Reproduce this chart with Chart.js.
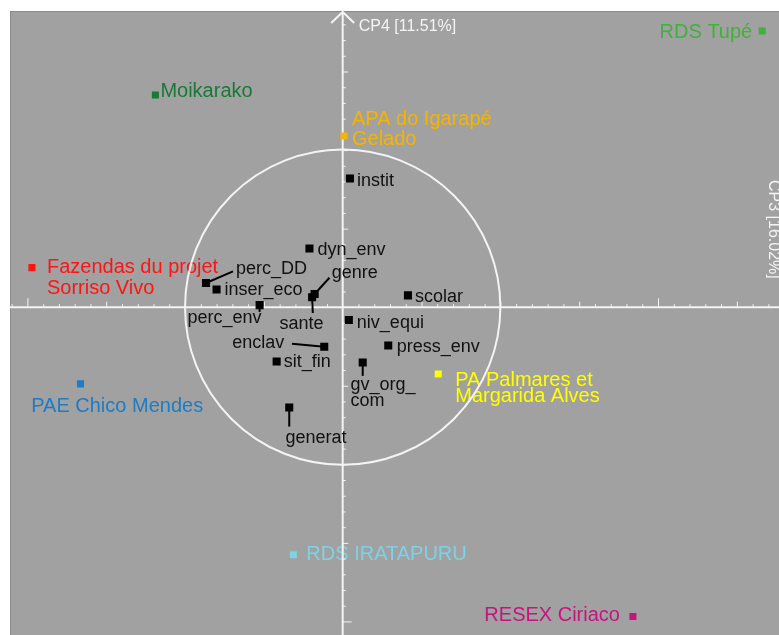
<!DOCTYPE html>
<html>
<head>
<meta charset="utf-8">
<script src="https://cdn.jsdelivr.net/npm/chart.js@4/dist/chart.umd.min.js"></script>
<style>
  html, body { margin: 0; padding: 0; background: #fff; }
  #box { width: 779px; height: 635px; }
</style>
</head>
<body>
<div id="box"><canvas id="cp"></canvas></div>
<script>
// sites (individuals) on the CP3 / CP4 plane
const siteNames = ["RDS Tupé", "Moikarako", "APA do Igarapé\nGelado", "Fazendas du projet\nSorriso Vivo",
    "PAE Chico Mendes", "PA Palmares et\nMargarida Alves", "RDS IRATAPURU", "RESEX Ciriaco"];
const siteX = [2.661, -1.188, 0.008, -1.971, -1.663, 0.606, -0.313, 1.841];
const siteY = [1.758, 1.350, 1.089, 0.252, -0.488, -0.425, -1.575, -1.969];
const siteColors = ["#3fb13c", "#177a35", "#f6b400", "#ff1414", "#1b7cc8", "#ffff00", "#7ed2e4", "#c4157f"];

// variables (correlation circle)
const varNames = ["instit", "dyn_env", "perc_DD", "inser_eco", "genre", "sante", "perc_env", "scolar",
    "niv_equi", "enclav", "press_env", "sit_fin", "gv_org_\ncom", "generat"];
const varX = [0.046, -0.211, -0.867, -0.800, -0.178, -0.194, -0.527, 0.414, 0.039, -0.117, 0.289, -0.419, 0.127, -0.339];
const varY = [0.819, 0.373, 0.154, 0.113, 0.084, 0.063, 0.013, 0.075, -0.081, -0.252, -0.244, -0.346, -0.352, -0.639];

const axisTitleV = "CP4 [11.51%]";
const axisTitleH = "CP3 [16.02%]";

// label placement, px from the marker (baseline of first line)
const siteLabelPos = [
    { dx: -10, dy: 7.5, align: "right" },
    { dx: 5, dy: 2.3 },
    { dx: 8, dy: -11, gap: 20 },
    { dx: 15, dy: 5, gap: 21.6 },
    { dx: -49.3, dy: 27.7 },
    { dx: 17, dy: 11.7, gap: 16.6 },
    { dx: 13, dy: 5 },
    { dx: -13, dy: 4.7, align: "right" }
];
const varLabelPos = [
    { dx: 7, dy: 7 },
    { dx: 8, dy: 6 },
    { dx: 30, dy: -9, lead: [27, -11.6] },
    { dx: 8, dy: 6 },
    { dx: 17.2, dy: -16.2, lead: [14.8, -16.2] },
    { dx: -32.7, dy: 31.3, lead: [0.7, 15.7] },
    { dx: 2, dy: 18.3, align: "right", lead: [0, 6.7] },
    { dx: 7, dy: 6.7 },
    { dx: 8, dy: 8 },
    { dx: -40, dy: 1, align: "right", lead: [-32.3, -3] },
    { dx: 8.4, dy: 6 },
    { dx: 7, dy: 5.4 },
    { dx: -12.3, dy: 27.7, gap: 16, lead: [0, 13.4] },
    { dx: -3.7, dy: 35.7, lead: [0, 19] }
];

const FONT = '"Liberation Sans", Arial, sans-serif';
const AXIS_WHITE = "#f4f4f4";

function drawLabel(ctx, text, x, y, pos, color, size) {
    ctx.save();
    ctx.font = size + "px " + FONT;
    ctx.fillStyle = color;
    ctx.textAlign = pos.align || "left";
    ctx.textBaseline = "alphabetic";
    text.split("\n").forEach((line, i) => {
        ctx.fillText(line, x + pos.dx, y + pos.dy + i * (pos.gap || 20));
    });
    ctx.restore();
}

const planePlugin = {
    id: "plane",
    beforeDraw(chart) {
        const ctx = chart.ctx;
        ctx.save();
        ctx.fillStyle = "#ffffff";
        ctx.fillRect(0, 0, chart.width, chart.height);
        ctx.fillStyle = "#a1a1a1";
        ctx.fillRect(10, 11, chart.width - 10, chart.height - 11);
        ctx.strokeStyle = "#8a8a8a";
        ctx.lineWidth = 1;
        ctx.beginPath();
        ctx.moveTo(10.5, chart.height);
        ctx.lineTo(10.5, 11.5);
        ctx.lineTo(chart.width, 11.5);
        ctx.stroke();
        ctx.restore();
    },
    beforeDatasetsDraw(chart) {
        const ctx = chart.ctx;
        const xs = chart.scales.x, ys = chart.scales.y;
        const cx = xs.getPixelForValue(0), cy = ys.getPixelForValue(0);
        const unit = xs.getPixelForValue(1) - cx;

        // site labels sit under the axes and circle
        const meta = chart.getDatasetMeta(0);
        meta.data.forEach((pt, i) => {
            drawLabel(ctx, siteNames[i], pt.x, pt.y, siteLabelPos[i], siteColors[i], 20);
        });

        ctx.save();
        ctx.strokeStyle = AXIS_WHITE;
        ctx.lineWidth = 2;
        // correlation circle
        ctx.beginPath();
        ctx.arc(cx, cy, unit, 0, Math.PI * 2);
        ctx.stroke();
        // axes
        ctx.beginPath();
        ctx.moveTo(10, cy);
        ctx.lineTo(chart.width, cy);
        ctx.moveTo(cx, chart.height);
        ctx.lineTo(cx, 12);
        ctx.stroke();
        // arrow head
        ctx.beginPath();
        ctx.moveTo(cx - 11.5, 23);
        ctx.lineTo(cx, 12);
        ctx.lineTo(cx + 11.5, 23);
        ctx.stroke();

        // ticks every 0.1, longer every 0.5 and 2
        ctx.lineWidth = 1;
        for (let k = -30; k <= 30; k++) {
            const v = k / 10;
            const len = (k % 20 === 0) ? 8 : (k % 5 === 0 ? 4.5 : 2);
            if (k === 0) continue;
            const px = xs.getPixelForValue(v);
            if (px > 11 && px < chart.width) {
                ctx.beginPath();
                ctx.moveTo(px + 0.5, cy);
                ctx.lineTo(px + 0.5, cy - len - 1);
                ctx.stroke();
            }
            const py = ys.getPixelForValue(v);
            if (py > 24 && py < chart.height) {
                ctx.beginPath();
                ctx.moveTo(cx, py + 0.5);
                ctx.lineTo(cx + len + 1, py + 0.5);
                ctx.stroke();
            }
        }

        // axis titles (the horizontal one runs down the right edge)
        ctx.fillStyle = AXIS_WHITE;
        ctx.font = "16px " + FONT;
        ctx.textBaseline = "alphabetic";
        ctx.textAlign = "left";
        ctx.fillText(axisTitleV, cx + 16, 31);
        ctx.translate(769, 180);
        ctx.rotate(Math.PI / 2);
        ctx.fillText(axisTitleH, 0, 0);
        ctx.restore();
    },
    afterDatasetsDraw(chart) {
        const ctx = chart.ctx;
        const meta = chart.getDatasetMeta(1);
        meta.data.forEach((pt, i) => {
            const pos = varLabelPos[i];
            if (pos.lead) {
                ctx.save();
                ctx.strokeStyle = "#000";
                ctx.lineWidth = 2;
                ctx.beginPath();
                ctx.moveTo(pt.x, pt.y);
                ctx.lineTo(pt.x + pos.lead[0], pt.y + pos.lead[1]);
                ctx.stroke();
                ctx.restore();
            }
            drawLabel(ctx, varNames[i], pt.x, pt.y, pos, "#111111", 18);
        });
    }
};

const toPoints = (xs, ys) => xs.map((x, i) => ({ x: x, y: ys[i] }));

new Chart(document.getElementById("cp"), {
    type: "scatter",
    data: {
        datasets: [
            {
                label: "sites",
                data: toPoints(siteX, siteY),
                pointStyle: "rect",
                pointRadius: 5,
                backgroundColor: siteColors,
                borderWidth: 0
            },
            {
                label: "variables",
                data: toPoints(varX, varY),
                pointStyle: "rect",
                pointRadius: 5.7,
                backgroundColor: "#000000",
                borderWidth: 0
            }
        ]
    },
    options: {
        responsive: true,
        maintainAspectRatio: false,
        animation: false,
        layout: { padding: 0 },
        plugins: { legend: { display: false }, tooltip: { enabled: false } },
        scales: {
            x: { type: "linear", display: false, min: -342 / 160, max: (779 - 342) / 160 },
            y: { type: "linear", display: false, min: (307 - 635) / 160, max: 307 / 160 }
        }
    },
    plugins: [planePlugin]
});
</script>
</body>
</html>
